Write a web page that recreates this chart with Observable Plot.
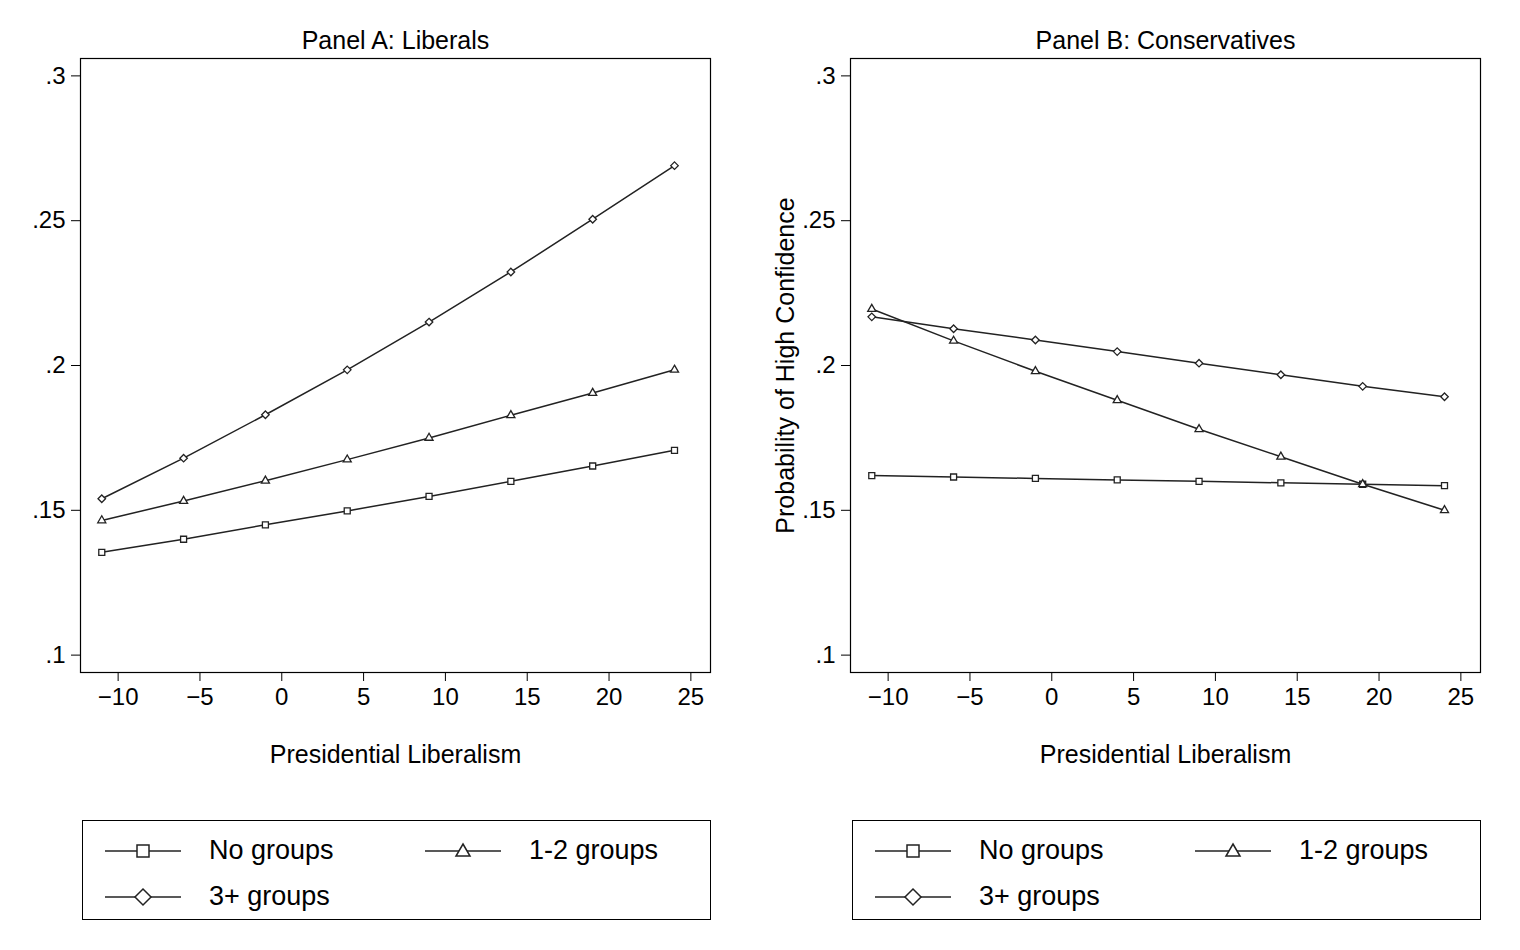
<!DOCTYPE html>
<html><head><meta charset="utf-8">
<script src="https://cdn.jsdelivr.net/npm/d3@7"></script>
<script src="https://cdn.jsdelivr.net/npm/@observablehq/plot@0.6"></script>
<style>
body{margin:0;background:#fff;font-family:"Liberation Sans",Arial,sans-serif;overflow:hidden;}
.panel{position:absolute;top:0;width:760px;height:790px;}
.legend{position:absolute;top:820px;height:100px;border:1.5px solid #000;box-sizing:border-box;font-size:27px;}
.item{position:absolute;display:flex;align-items:center;}
.item span{margin-left:28px;}
</style></head><body>
<div class="panel" id="a" style="left:0"></div>
<div class="panel" id="b" style="left:770px"></div>
<div class="legend" id="la" style="left:82px;width:629px"></div>
<div class="legend" id="lb" style="left:852px;width:629px"></div>
<script>
const xs = [-11, -6, -1, 4, 9, 14, 19, 24];
const seriesNames = ["No groups", "1-2 groups", "3+ groups"];
const symbols = ["square", "triangle", "diamond2"];
const libNone = [.1355, .140, .145, .1498, .1548, .160, .1653, .1707];
const libMid = [.1465, .1532, .1602, .1675, .175, .1828, .1905, .1985];
const libHigh = [.154, .168, .183, .1985, .215, .2323, .2505, .269];
const conNone = [.162, .1615, .161, .1605, .160, .1595, .159, .1585];
const conMid = [.2195, .2085, .198, .188, .178, .1685, .159, .150];
const conHigh = [.2168, .2127, .2088, .2048, .2008, .1968, .1928, .1892];
const yTicks = [.1, .15, .2, .25, .3];
const xTicks = [-10, -5, 0, 5, 10, 15, 20, 25];

function rows(sets) {
  return sets.flatMap((vals, i) => vals.map((v, j) => ({x: xs[j], y: v, s: seriesNames[i], sym: symbols[i]})));
}

function panel(title, data, ylabel) {
  return Plot.plot({
    width: 760, height: 790,
    marginLeft: 80, marginRight: 50, marginTop: 58, marginBottom: 118,
    style: {fontFamily: "Liberation Sans, Arial, sans-serif", fontSize: "22px", color: "#000", background: "#fff", maxWidth: "none"},
    x: {domain: [-12.3, 26.2], label: null},
    y: {domain: [0.094, 0.306], label: null},
    symbol: {domain: symbols, range: symbols},
    marks: [
      Plot.frame({stroke: "#000", strokeWidth: 1.2}),
      Plot.axisX({ticks: xTicks, tickFormat: d => d < 0 ? "\u2212" + (-d) : d, tickSize: 9, fontSize: 24, tickPadding: 6}),
      Plot.axisY({ticks: yTicks, tickFormat: d => String(d).replace("0.", "."), tickSize: 9, fontSize: 24, tickPadding: 6}),
      Plot.line(data, {x: "x", y: "y", z: "s", stroke: "#222", strokeWidth: 1.5}),
      Plot.dot(data, {x: "x", y: "y", symbol: "sym", fill: "white", stroke: "#222", strokeWidth: 1.3, r: d => d.sym === "triangle" ? 5.5 : 7}),
      Plot.text([title], {frameAnchor: "top", dy: -27, fontSize: 25}),
      Plot.text(["Presidential Liberalism"], {frameAnchor: "bottom", dy: 90, fontSize: 25}),
      ...(ylabel ? [Plot.text([ylabel], {frameAnchor: "left", dx: -65, rotate: -90, textAnchor: "middle", fontSize: 25})] : [])
    ]
  });
}

document.getElementById("a").append(panel("Panel A: Liberals", rows([libNone, libMid, libHigh])));
document.getElementById("b").append(panel("Panel B: Conservatives", rows([conNone, conMid, conHigh]), "Probability of High Confidence"));

const shapes = {
  square: '<rect x="32" y="4" width="12" height="12" fill="white" stroke="#222" stroke-width="1.5"/>',
  triangle: '<path d="M38,3 L45,15 L31,15 Z" fill="white" stroke="#222" stroke-width="1.5"/>',
  diamond2: '<path d="M38,2 L46,10 L38,18 L30,10 Z" fill="white" stroke="#222" stroke-width="1.5"/>'
};
const pos = [[22, 14], [342, 14], [22, 60]];
for (const id of ["la", "lb"]) {
  const el = document.getElementById(id);
  seriesNames.forEach((n, i) => {
    const d = document.createElement("div");
    d.className = "item";
    d.style.left = pos[i][0] + "px"; d.style.top = pos[i][1] + "px";
    d.innerHTML = `<svg width="76" height="20"><line x1="0" x2="76" y1="10" y2="10" stroke="#222" stroke-width="1.5"/>${shapes[symbols[i]]}</svg><span>${n}</span>`;
    el.append(d);
  });
}
</script></body></html>
